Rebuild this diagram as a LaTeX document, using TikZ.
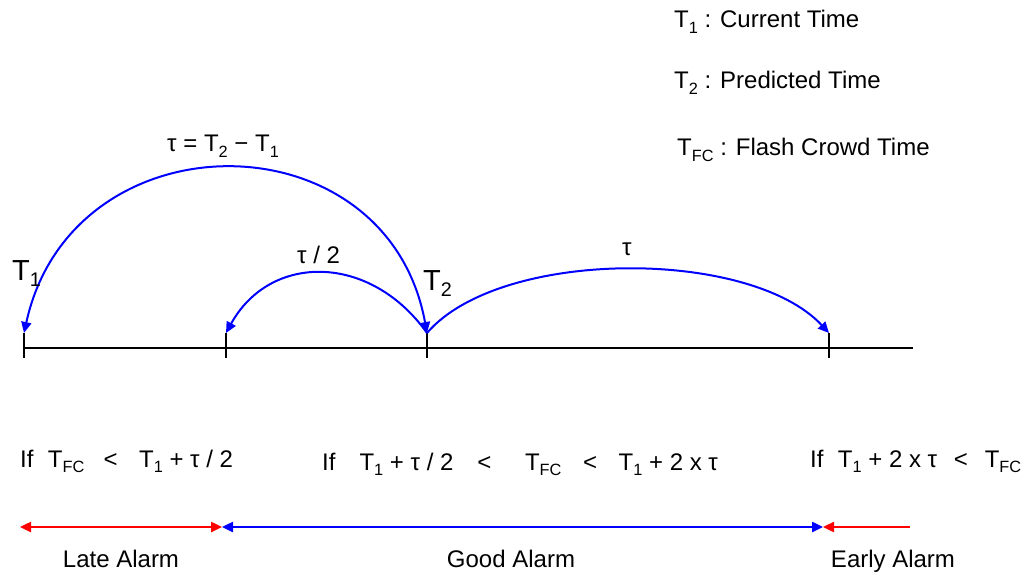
\documentclass[tikz,border=0pt]{standalone}
\usepackage{fontspec}
\setmainfont{Liberation Sans}
\usetikzlibrary{arrows.meta}
\newcommand\sbs[1]{\raisebox{-0.45ex}{\scalebox{0.68}{#1}}}
\tikzset{
  txt/.style={inner sep=0pt, anchor=base west, font=\fontsize{24}{28}\selectfont},
  big/.style={inner sep=0pt, anchor=base west, font=\fontsize{29}{32}\selectfont},
  arc/.style={draw=blue, line width=2pt, -{Triangle[length=11pt,width=10pt]}},
  axis/.style={draw=black, line width=1.4pt},
  rng/.style={line width=2.4pt, {Triangle[length=11pt,width=10pt]}-{Triangle[length=11pt,width=10pt]}},
}
\begin{document}
\begin{tikzpicture}[x=1pt,y=-1pt]
\useasboundingbox (0,0) rectangle (1026,575);
% axis and ticks
\coordinate (a0) at (24,348);
\coordinate (a1) at (913,348);
\draw[axis] (a0) -- (a1);
\coordinate (t1) at (24,333);
\coordinate (th) at (226,333);
\coordinate (t2) at (427,333);
\coordinate (tt) at (829,333);
\foreach \p in {t1,th,t2,tt}{\draw[axis] (\p) -- ++(0,25);}
% arcs
\draw[arc, {Triangle[length=11pt,width=10pt]}-{Triangle[length=11pt,width=10pt]}] (t2) .. controls +(-40,-219) and +(48,-219) .. (t1);
\draw[arc] (t2) .. controls +(-57,-80) and +(44,-80) .. (th);
\draw[arc] (t2) .. controls +(73,-85) and +(-79,-85) .. (tt);
% labels
\node[txt] (lt) at (167,152) {τ = T\sbs{2} − T\sbs{1}};
\node[big] (lT1) at (12,280) {T\sbs{1}};
\node[big] (lT2) at (423,290) {T\sbs{2}};
\node[txt] (lh) at (297,263) {τ / 2};
\node[txt] (ltau) at (622,255) {τ};
% legend
\node[txt] (g1) at (674,28) {T\sbs{1} : Current Time};
\node[txt] (g2) at (674,89) {T\sbs{2} : Predicted Time};
\node[txt] (g3) at (677,156) {T\sbs{FC} : Flash Crowd Time};
% conditions
\node[txt] (c1) at (20,467) {If\hspace{0.6em}T\sbs{FC}\hspace{0.8em}<\hspace{0.9em}T\sbs{1} + τ / 2};
\node[txt] (c2) at (322,470) {If\hspace{1em}T\sbs{1} + τ / 2\hspace{1.0em}<\hspace{1.4em}T\sbs{FC}\hspace{0.9em}<\hspace{0.9em}T\sbs{1} + 2 x τ};
\node[txt] (c3) at (810,467) {If\hspace{0.6em}T\sbs{1} + 2 x τ\hspace{0.7em}<\hspace{0.7em}T\sbs{FC}};
% ranges
\coordinate (r0) at (20,527);
\coordinate (r1) at (222,527);
\coordinate (r2) at (823,527);
\coordinate (r3) at (910,527);
\draw[rng, red] (r0) -- (r1);
\draw[rng, blue] (r1) -- (r2);
\draw[rng, red, {Triangle[length=11pt,width=10pt]}-] (r2) -- (r3);
\node[txt, anchor=base] (la) at (121,567) {Late Alarm};
\node[txt, anchor=base] (ga) at (511,567) {Good Alarm};
\node[txt, anchor=base] (ea) at (893,567) {Early Alarm};
\end{tikzpicture}
\end{document}
